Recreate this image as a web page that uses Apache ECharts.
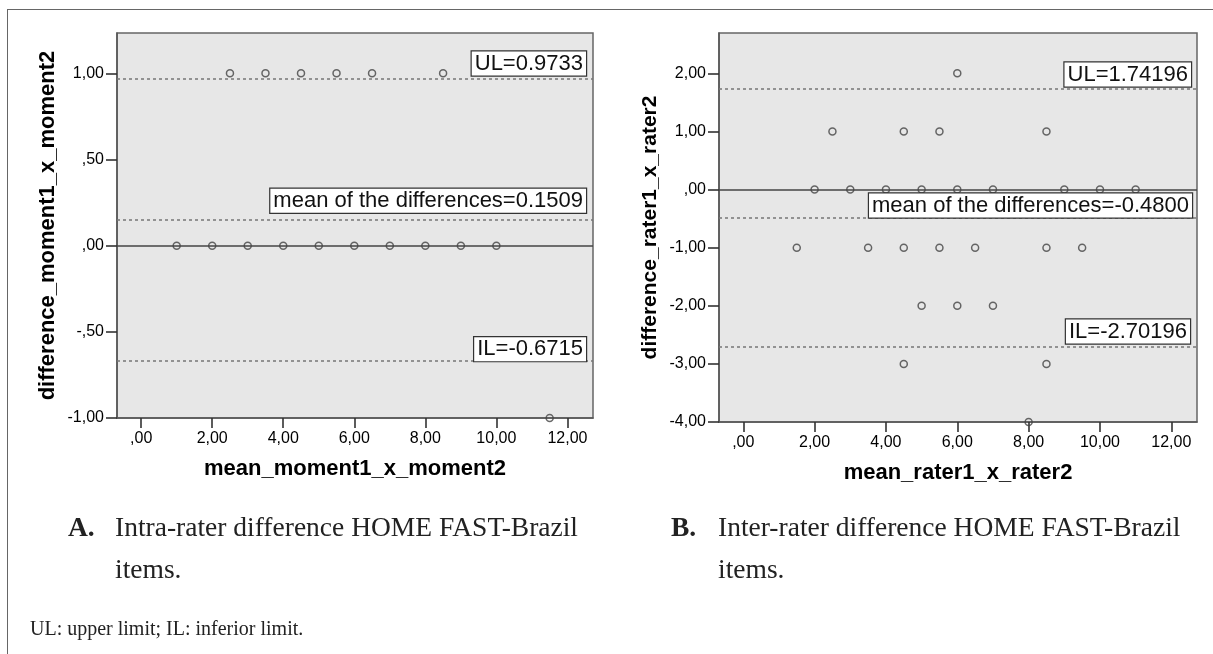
<!DOCTYPE html>
<html lang="en">
<head>
    <meta charset="utf-8">
    <script src="https://cdn.jsdelivr.net/npm/echarts@6.0.0/dist/echarts.min.js"></script>
    <style>
        body { margin: 0; background: #fff; overflow: hidden; }
        #frame { position: absolute; left: 7px; top: 9px; width: 1220px; height: 660px;
                 border-top: 1.5px solid #666; border-left: 1.5px solid #666; }
        #main { position: absolute; left: 0; top: 0; width: 1213px; height: 654px; }
        .cap { position: absolute; font-family: 'Liberation Serif', serif; font-size: 27.5px;
               line-height: 32px; color: #222; white-space: nowrap; }
        .cap b { position: absolute; left: -47px; }
        .note { position: absolute; left: 30px; top: 616px; font-family: 'Liberation Serif', serif;
                font-size: 20px; line-height: 24px; color: #222; white-space: nowrap; }
    </style>
</head>
<body>
    <div id="frame"></div>
    <div id="main"></div>
    <div class="cap" style="left:115px;top:511px"><b>A.</b>Intra-rater difference HOME FAST-Brazil</div>
    <div class="cap" style="left:115px;top:553px">items.</div>
    <div class="cap" style="left:718px;top:511px"><b>B.</b>Inter-rater difference HOME FAST-Brazil</div>
    <div class="cap" style="left:718px;top:553px">items.</div>
    <div class="note">UL: upper limit; IL: inferior limit.</div>
<script>
    // A: intra-rater (moment1 x moment2)
    var intraMean = [2.5, 3.5, 4.5, 5.5, 6.5, 8.5, 1, 2, 3, 4, 5, 6, 7, 8, 9, 10, 11.5];
    var intraDiff = [1, 1, 1, 1, 1, 1, 0, 0, 0, 0, 0, 0, 0, 0, 0, 0, -1];
    var intraLines = [0.9733, 0.1509, -0.6715];
    var intraLabels = ['UL=0.9733', 'mean of the differences=0.1509', 'IL=-0.6715'];

    // B: inter-rater (rater1 x rater2)
    var interMean = [6, 2.5, 4.5, 5.5, 8.5, 2, 3, 4, 5, 6, 7, 9, 10, 11,
                     1.5, 3.5, 4.5, 5.5, 6.5, 8.5, 9.5, 5, 6, 7, 4.5, 8.5, 8];
    var interDiff = [2, 1, 1, 1, 1, 0, 0, 0, 0, 0, 0, 0, 0, 0,
                     -1, -1, -1, -1, -1, -1, -1, -2, -2, -2, -3, -3, -4];
    var interLines = [1.74196, -0.48, -2.70196];
    var interLabels = ['UL=1.74196', 'mean of the differences=-0.4800', 'IL=-2.70196'];

    // tick values
    var xTicks = [0, 2, 4, 6, 8, 10, 12];
    var yTicksA = [-1, -0.5, 0, 0.5, 1];
    var yTicksB = [-4, -3, -2, -1, 0, 1, 2];

    var FONT = "'Liberation Sans', Arial, sans-serif";

    // 1.5 -> "1,50", 0.5 -> ",50"
    function fmt(v) {
        var s = Math.abs(v).toFixed(2).replace('.', ',');
        if (s.indexOf('0,') === 0) s = s.slice(1);
        return (v < 0 ? '-' : '') + s;
    }

    function pairs(xs, ys) {
        var out = [];
        for (var i = 0; i < xs.length; i++) out.push([xs[i], ys[i]]);
        return out;
    }

    function xAxisOf(idx, name) {
        return {
            type: 'value', gridIndex: idx, min: -0.68, max: 12.72,
            name: name, nameLocation: 'middle', nameGap: 40,
            nameTextStyle: { fontFamily: FONT, fontWeight: 'bold', fontSize: 22, color: '#000' },
            axisLine: { onZero: false, lineStyle: { color: '#555', width: 1.5 } },
            axisTick: { show: true, customValues: xTicks, length: 10, lineStyle: { color: '#333', width: 1.6 } },
            axisLabel: { customValues: xTicks, formatter: fmt, margin: 13, fontFamily: FONT, fontSize: 16, color: '#000' },
            splitLine: { show: false }
        };
    }

    function yAxisOf(idx, name, min, max, ticks, nameSize) {
        return {
            type: 'value', gridIndex: idx, min: min, max: max,
            name: name, nameLocation: 'middle', nameGap: 58,
            nameTextStyle: { fontFamily: FONT, fontWeight: 'bold', fontSize: nameSize, color: '#000' },
            axisLine: { onZero: false, lineStyle: { color: '#555', width: 1.5 } },
            axisTick: { show: true, customValues: ticks, length: 11, lineStyle: { color: '#333', width: 1.6 } },
            axisLabel: { customValues: ticks, formatter: fmt, margin: 13, fontFamily: FONT, fontSize: 16, color: '#000' },
            splitLine: { show: false }
        };
    }

    // limit lines with boxed labels, plus the solid zero line
    function markLinesOf(values, labels, dists) {
        var data = [{
            yAxis: 0,
            lineStyle: { type: 'solid', color: '#444', width: 1.6 },
            label: { show: false }
        }];
        for (var i = 0; i < values.length; i++) {
            data.push({
                yAxis: values[i],
                lineStyle: { type: [3, 3], color: '#777', width: 1.5 },
                label: {
                    show: true, position: 'insideEndTop', formatter: labels[i],
                    distance: dists[i], fontFamily: FONT, fontSize: 22, color: '#111',
                    backgroundColor: '#fff', borderColor: '#333', borderWidth: 1.2, padding: [1, 3]
                }
            });
        }
        return { symbol: ['none', 'none'], silent: true, animation: false, data: data };
    }

    function scatterOf(idx, data, ml) {
        return {
            type: 'scatter', xAxisIndex: idx, yAxisIndex: idx, data: data,
            symbol: 'circle', symbolSize: 7,
            itemStyle: { color: 'rgba(0,0,0,0)', borderColor: '#444', borderWidth: 1.5 },
            markLine: ml, animation: false
        };
    }

    var myChart = echarts.init(document.getElementById('main'));
    myChart.setOption({
        grid: [
            { left: 117, top: 33, width: 476, height: 385, show: true, backgroundColor: '#e7e7e7', borderColor: '#666', borderWidth: 1.5 },
            { left: 719, top: 33, width: 478, height: 389, show: true, backgroundColor: '#e7e7e7', borderColor: '#666', borderWidth: 1.5 }
        ],
        xAxis: [
            xAxisOf(0, 'mean_moment1_x_moment2'),
            xAxisOf(1, 'mean_rater1_x_rater2')
        ],
        yAxis: [
            yAxisOf(0, 'difference_moment1_x_moment2', -1, 1.234, yTicksA, 22),
            yAxisOf(1, 'difference_rater1_x_rater2', -4, 2.694, yTicksB, 21)
        ],
        series: [
            scatterOf(0, pairs(intraMean, intraDiff), markLinesOf(intraLines, intraLabels, [[7, 3], [7, 7], [7, 0]])),
            scatterOf(1, pairs(interMean, interDiff), markLinesOf(interLines, interLabels, [[6, 2], [5, 0], [7, 3]]))
        ]
    });
</script>
</body>
</html>
